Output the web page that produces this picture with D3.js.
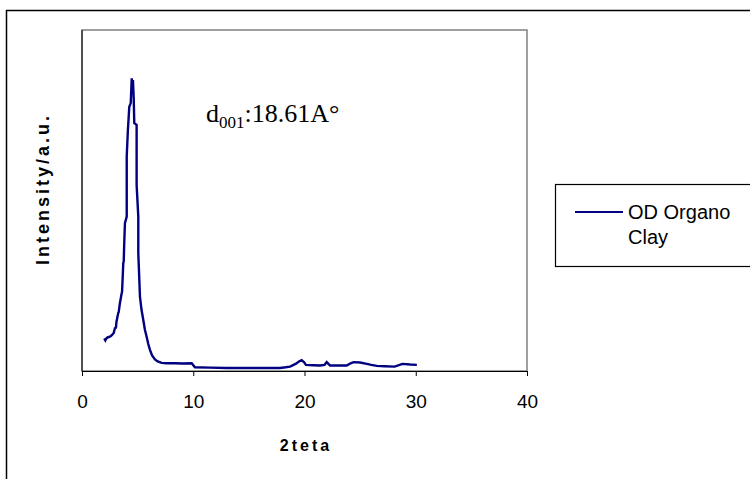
<!DOCTYPE html>
<html>
<head>
<meta charset="utf-8">
<script src="https://cdn.jsdelivr.net/npm/d3@7"></script>
<style>
  body { margin: 0; background: #fff; }
  svg { display: block; }
</style>
</head>
<body>
<div id="chart"></div>
<script>
// XRD pattern (2theta, intensity in arbitrary units)
const twoTheta = [2.0, 2.1, 2.16, 2.3, 2.43, 2.6, 2.7, 2.85, 2.96, 3.05, 3.1, 3.26, 3.3, 3.4, 3.57, 3.6, 3.65, 3.71, 3.75, 3.8, 3.86, 4.02, 4.02, 4.12, 4.25, 4.38, 4.47, 4.52, 4.58, 4.65, 4.70, 4.91, 4.91, 5.06, 5.06, 5.21, 5.35, 5.51, 5.65, 5.81, 5.95, 6.11, 6.3, 6.56, 6.8, 7.16, 7.6, 8.36, 9.0, 9.86, 10.15, 11.5, 13.0, 15.1, 16.5, 17.8, 18.3, 18.7, 19.2, 19.5, 19.74, 19.95, 20.13, 20.8, 21.4, 21.8, 22.0, 22.3, 23.0, 23.8, 24.1, 24.4, 25.0, 25.6, 26.0, 26.5, 27.2, 28.1, 28.8, 29.5, 30.1]
const intensity = [9.6, 9.0, 9.4, 9.9, 10.0, 10.3, 10.6, 11.2, 12.6, 12.8, 14.5, 17.1, 17.3, 19.8, 22.9, 23.2, 27.0, 31.8, 32.2, 38.0, 43.5, 45.4, 63.0, 70.5, 77.7, 78.8, 86.1, 84.0, 85.6, 80.0, 72.9, 72.4, 54.7, 45.4, 34.7, 21.9, 18.0, 15.0, 12.2, 10.1, 8.0, 6.2, 4.6, 3.4, 2.8, 2.4, 2.3, 2.3, 2.2, 2.3, 1.1, 1.0, 0.9, 0.9, 0.9, 0.9, 1.1, 1.3, 2.1, 2.8, 3.2, 2.6, 1.8, 1.7, 1.6, 1.8, 2.6, 1.6, 1.6, 1.6, 2.2, 2.6, 2.5, 2.1, 1.8, 1.5, 1.4, 1.3, 2.1, 1.9, 1.8]

const xTicks = [0, 10, 20, 30, 40]
const seriesName = ["OD Organo", "Clay"]

const width = 750, height = 479
const plot = { left: 82, top: 30, right: 527, bottom: 371 }

const svg = d3.select("#chart").append("svg")
    .attr("width", width)
    .attr("height", height)

// outer chart border
svg.append("rect")
    .attr("x", 6.5).attr("y", 10.5)
    .attr("width", 760).attr("height", 480)
    .attr("fill", "none")
    .attr("stroke", "#000")
    .attr("stroke-width", 1.5)

var x = d3.scaleLinear().domain([0, 40]).range([plot.left, plot.right])
var y = d3.scaleLinear().domain([0, 100]).range([plot.bottom, plot.top + 1])

// plot area frame
svg.append("rect")
    .attr("x", plot.left).attr("y", plot.top)
    .attr("width", plot.right - plot.left)
    .attr("height", plot.bottom - plot.top)
    .attr("fill", "none")
    .attr("stroke", "#808080")
    .attr("stroke-width", 1.5)

// y axis line only, no ticks
svg.append("line")
    .attr("x1", plot.left).attr("x2", plot.left)
    .attr("y1", plot.top).attr("y2", plot.bottom)
    .attr("stroke", "#000")

// x axis
svg.append("g")
    .attr("transform", `translate(0,${plot.bottom})`)
    .call(d3.axisBottom(x).tickValues(xTicks).tickSize(5).tickSizeOuter(0).tickPadding(19))
    .call(g => g.select(".domain").attr("stroke", "#000").attr("stroke-width", 1.2))
    .call(g => g.selectAll(".tick text")
        .style("font-family", "Liberation Sans, Arial")
        .style("font-size", "19px")
        .attr("fill", "#000"))

// the curve
const points = twoTheta.map((t, i) => [t, intensity[i]])
svg.append("path")
    .datum(points)
    .attr("fill", "none")
    .attr("stroke", "#000080")
    .attr("stroke-width", 2.4)
    .attr("stroke-linejoin", "miter")
    .attr("d", d3.line().x(d => x(d[0])).y(d => y(d[1])))

// axis titles
svg.append("text")
    .attr("x", 306).attr("y", 451)
    .attr("text-anchor", "middle")
    .style("font-family", "Liberation Sans, Arial")
    .style("font-weight", "bold")
    .style("font-size", "16px")
    .style("letter-spacing", "3px")
    .text("2teta")

svg.append("text")
    .attr("transform", "translate(49,189) rotate(-90)")
    .attr("text-anchor", "middle")
    .style("font-family", "Liberation Sans, Arial")
    .style("font-weight", "bold")
    .style("font-size", "18px")
    .style("letter-spacing", "3px")
    .text("Intensity/a.u.")

// d-spacing annotation
var note = svg.append("text")
    .attr("x", 206).attr("y", 122)
    .style("font-family", "Liberation Serif, Times New Roman")
    .style("font-size", "26px")
note.append("tspan").text("d")
note.append("tspan").attr("dy", 6).style("font-size", "17px").text("001")
note.append("tspan").attr("dy", -6).text(":18.61A°")

// legend
svg.append("rect")
    .attr("x", 555.5).attr("y", 184.5)
    .attr("width", 210).attr("height", 82)
    .attr("fill", "#fff")
    .attr("stroke", "#000")
    .attr("stroke-width", 1.2)
svg.append("line")
    .attr("x1", 575).attr("x2", 623)
    .attr("y1", 212).attr("y2", 212)
    .attr("stroke", "#000080")
    .attr("stroke-width", 2)
svg.append("g")
    .selectAll("text")
    .data(seriesName)
    .join("text")
    .attr("x", 628)
    .attr("y", (d, i) => 219 + i * 25)
    .style("font-family", "Liberation Sans, Arial")
    .style("font-size", "20px")
    .text(d => d)
</script>
</body>
</html>
